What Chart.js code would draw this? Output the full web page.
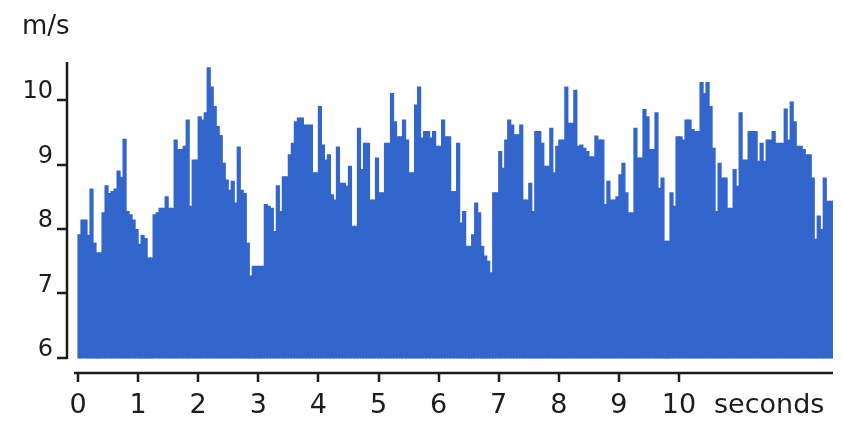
<!DOCTYPE html>
<html>
<head>
<meta charset="utf-8">
<script src="https://cdn.jsdelivr.net/npm/chart.js@4.4.1/dist/chart.umd.min.js"></script>
<style>
  body { margin: 0; background: #fff; }
  #wrap { width: 843px; height: 425px; }
</style>
</head>
<body>
<div id="wrap"><canvas id="chart" width="843" height="425"></canvas></div>
<script>
// Data: wind speed (m/s), one sample every 0.05 s
const sampleStep = 0.05;
const speeds = [
  7.91, 8.14, 8.14, 7.9, 8.62, 7.78, 7.63, 7.63, 8.25, 8.67,
  8.55, 8.58, 8.62, 8.9, 8.8, 9.39, 8.27, 8.22, 8.14, 7.99,
  7.76, 7.9, 7.85, 7.55, 7.55, 8.22, 8.25, 8.32, 8.32, 8.5,
  8.32, 8.32, 9.38, 9.23, 9.23, 9.28, 9.69, 8.35, 9.07, 9.07,
  9.74, 9.69, 9.8, 10.5, 10.2, 9.9, 9.59, 9.45, 9.02, 8.76,
  8.6, 8.74, 8.4, 9.27, 8.6, 8.55, 7.78, 7.27, 7.42, 7.42,
  7.42, 7.42, 8.38, 8.35, 8.32, 7.96, 8.67, 8.27, 8.81, 8.81,
  9.15, 9.33, 9.66, 9.72, 9.72, 9.61, 9.61, 9.61, 8.87, 8.87,
  9.9, 9.3, 9.07, 9.15, 8.53, 8.45, 9.27, 8.71, 8.71, 8.66,
  8.97, 8.04, 8.04, 9.56, 8.92, 9.33, 9.33, 8.45, 8.45, 9.1,
  8.56, 8.56, 9.33, 9.33, 10.1, 9.66, 9.43, 9.43, 9.69, 9.38,
  8.87, 8.87, 9.92, 10.2, 9.41, 9.51, 9.51, 9.41, 9.51, 9.28,
  9.28, 9.69, 9.43, 9.43, 8.58, 8.58, 9.33, 8.09, 8.27, 7.73,
  7.73, 7.91, 8.4, 8.25, 7.73, 7.58, 7.5, 7.32, 8.56, 8.56,
  9.2, 8.94, 9.38, 9.69, 9.61, 9.46, 9.46, 9.61, 8.45, 8.45,
  8.71, 8.27, 9.51, 9.51, 9.33, 8.97, 8.97, 9.56, 8.87, 9.28,
  9.38, 9.38, 10.2, 9.64, 9.64, 10.15, 9.28, 9.3, 9.25, 9.2,
  9.12, 9.12, 9.44, 9.38, 9.38, 8.38, 8.74, 8.45, 8.45, 8.5,
  8.84, 9.02, 8.56, 8.25, 8.25, 9.56, 9.1, 9.1, 9.85, 9.74,
  9.23, 9.23, 9.8, 8.63, 8.79, 7.81, 7.81, 8.56, 8.35, 9.43,
  9.43, 9.38, 9.69, 9.69, 9.54, 9.51, 9.51, 10.27, 10.1, 10.27,
  9.9, 9.25, 8.27, 9.02, 8.79, 8.79, 8.32, 8.32, 8.92, 8.66,
  9.8, 9.07, 9.07, 9.51, 9.51, 9.51, 9.05, 9.33, 9.05, 9.38,
  9.38, 9.51, 9.33, 9.33, 9.33, 9.86, 9.38, 9.97, 9.66, 9.28,
  9.28, 9.23, 9.15, 9.15, 8.79, 7.84, 8.2, 7.99, 8.79, 8.43,
  8.43, 8.43
];

const xTicks = [0, 1, 2, 3, 4, 5, 6, 7, 8, 9, 10];
const xUnitPos = 11.5;
const xUnitLabel = 'seconds';
const yTicks = [6, 7, 8, 9, 10];
const yUnitLabel = 'm/s';
const yBase = 6;

const barColor = '#3366cc';
const inkColor = '#1c1c1c';
const font = 'DejaVu Sans';

// each bar covers [t, t + step]
const points = speeds.map((v, i) => ({ x: i * sampleStep + sampleStep / 2, y: v }));

// Axes drawn apart from the bars, like the original
const detachedAxes = {
  id: 'detachedAxes',
  afterDraw(chart) {
    const ctx = chart.ctx;
    const x = chart.scales.x;
    const y = chart.scales.y;
    const area = chart.chartArea;

    ctx.save();
    ctx.strokeStyle = inkColor;
    ctx.lineWidth = 2.5;

    // y axis line + ticks
    const yBottom = y.getPixelForValue(yBase);
    ctx.beginPath();
    ctx.moveTo(area.left, area.top);
    ctx.lineTo(area.left, yBottom + 1);
    yTicks.forEach((t) => {
      const py = Math.round(y.getPixelForValue(t));
      ctx.moveTo(area.left - 10, py);
      ctx.lineTo(area.left, py);
    });
    ctx.stroke();

    // x axis line + ticks
    ctx.beginPath();
    ctx.moveTo(x.getPixelForValue(0) - 4, area.bottom);
    ctx.lineTo(area.right, area.bottom);
    xTicks.forEach((t) => {
      const px = Math.round(x.getPixelForValue(t));
      ctx.moveTo(px, area.bottom);
      ctx.lineTo(px, area.bottom + 9);
    });
    ctx.stroke();

    // unit label
    ctx.fillStyle = inkColor;
    ctx.font = '26px "' + font + '"';
    ctx.textBaseline = 'top';
    ctx.textAlign = 'left';
    ctx.fillText(yUnitLabel, 22, 14);
    ctx.restore();
  }
};

const chart = new Chart(document.getElementById('chart'), {
  type: 'bar',
  data: {
    datasets: [{
      data: points,
      backgroundColor: barColor,
      borderWidth: 0,
      inflateAmount: 0.6,
      base: yBase,
      barPercentage: 1,
      categoryPercentage: 1
    }]
  },
  options: {
    responsive: false,
    animation: false,
    layout: { padding: { top: 62, right: 10, left: 0, bottom: 0 } },
    plugins: {
      legend: { display: false },
      tooltip: { enabled: false }
    },
    scales: {
      x: {
        type: 'linear',
        offset: false,
        min: -0.183,
        max: 12.562,
        grid: { display: false, drawTicks: false },
        border: { display: false },
        afterBuildTicks: (scale) => {
          scale.ticks = xTicks.concat([xUnitPos]).map((v) => ({ value: v }));
        },
        afterFit: (scale) => { scale.height = 52; },
        ticks: {
          autoSkip: false,
          maxRotation: 0,
          padding: 17,
          color: inkColor,
          font: { family: font, size: 27 },
          callback: (v) => (v === xUnitPos ? xUnitLabel : v)
        }
      },
      y: {
        min: 5.767,
        max: 10.59,
        grid: { display: false, drawTicks: false },
        border: { display: false },
        afterBuildTicks: (scale) => {
          scale.ticks = yTicks.map((v) => ({ value: v }));
        },
        afterFit: (scale) => { scale.width = 67; },
        ticks: {
          padding: 14,
          labelOffset: -8,
          color: inkColor,
          font: { family: font, size: 24 }
        }
      }
    }
  },
  plugins: [detachedAxes]
});
</script>
</body>
</html>
